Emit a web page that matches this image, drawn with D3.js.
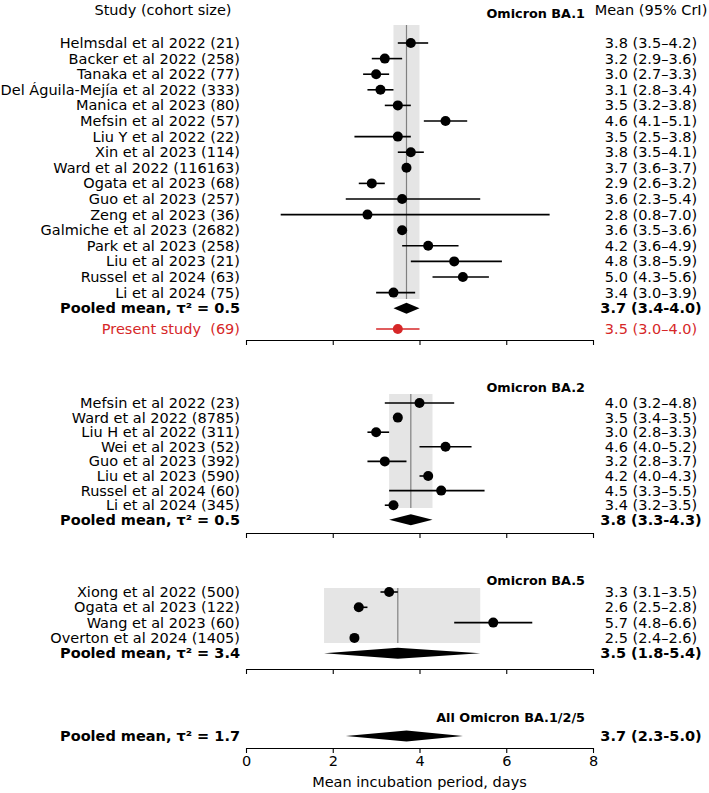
<!DOCTYPE html>
<html>
<head>
<meta charset="utf-8">
<script src="https://cdn.jsdelivr.net/npm/d3@7/dist/d3.min.js"></script>
<style>
body { margin: 0; background: #fff; }
svg text { font-family: "DejaVu Sans", sans-serif; font-size: 14.5px; }
</style>
</head>
<body>
<svg id="chart"></svg>
<script>
// ---- data ----
var ba1Studies = ["Helmsdal et al 2022 (21)", "Backer et al 2022 (258)", "Tanaka et al 2022 (77)",
    "Del Águila-Mejía et al 2022 (333)", "Manica et al 2023 (80)", "Mefsin et al 2022 (57)",
    "Liu Y et al 2022 (22)", "Xin et al 2023 (114)", "Ward et al 2022 (116163)", "Ogata et al 2023 (68)",
    "Guo et al 2023 (257)", "Zeng et al 2023 (36)", "Galmiche et al 2023 (2682)", "Park et al 2023 (258)",
    "Liu et al 2023 (21)", "Russel et al 2024 (63)", "Li et al 2024 (75)"];
var ba1Mean = [3.8, 3.2, 3.0, 3.1, 3.5, 4.6, 3.5, 3.8, 3.7, 2.9, 3.6, 2.8, 3.6, 4.2, 4.8, 5.0, 3.4];
var ba1Lo   = [3.5, 2.9, 2.7, 2.8, 3.2, 4.1, 2.5, 3.5, 3.6, 2.6, 2.3, 0.8, 3.5, 3.6, 3.8, 4.3, 3.0];
var ba1Hi   = [4.2, 3.6, 3.3, 3.4, 3.8, 5.1, 3.8, 4.1, 3.7, 3.2, 5.4, 7.0, 3.6, 4.9, 5.9, 5.6, 3.9];
var ba1Pooled = [3.7, 3.4, 4.0];
var ba1Tau2 = "0.5";

var presentLabel = "Present study  (69)";
var presentEst = [3.5, 3.0, 4.0];

var ba2Studies = ["Mefsin et al 2022 (23)", "Ward et al 2022 (8785)", "Liu H et al 2022 (311)",
    "Wei et al 2023 (52)", "Guo et al 2023 (392)", "Liu et al 2023 (590)", "Russel et al 2024 (60)",
    "Li et al 2024 (345)"];
var ba2Mean = [4.0, 3.5, 3.0, 4.6, 3.2, 4.2, 4.5, 3.4];
var ba2Lo   = [3.2, 3.4, 2.8, 4.0, 2.8, 4.0, 3.3, 3.2];
var ba2Hi   = [4.8, 3.5, 3.3, 5.2, 3.7, 4.3, 5.5, 3.5];
var ba2Pooled = [3.8, 3.3, 4.3];
var ba2Tau2 = "0.5";

var ba5Studies = ["Xiong et al 2022 (500)", "Ogata et al 2023 (122)", "Wang et al 2023 (60)",
    "Overton et al 2024 (1405)"];
var ba5Mean = [3.3, 2.6, 5.7, 2.5];
var ba5Lo   = [3.1, 2.5, 4.8, 2.4];
var ba5Hi   = [3.5, 2.8, 6.6, 2.6];
var ba5Pooled = [3.5, 1.8, 5.4];
var ba5Tau2 = "3.4";

var allPooled = [3.7, 2.3, 5.0];
var allTau2 = "1.7";

var xTicks = [0, 2, 4, 6, 8];

// ---- layout ----
var W = 709, H = 793;
var svg = d3.select("#chart").attr("width", W).attr("height", H);

var x = d3.scaleLinear().domain([0, 8]).range([246, 593]);
var labelX = 240, valueX = 651, titleX = 585;
var fmt = d3.format(".1f");
var red = "#d62728";

var panels = [
    {title: "Omicron BA.1", studies: ba1Studies, mean: ba1Mean, lo: ba1Lo, hi: ba1Hi,
        pooled: ba1Pooled, tau: ba1Tau2, titleY: 14, firstY: 43, step: 15.6,
        bandTop: 25, bandBottom: 299, axisY: 340},
    {title: "Omicron BA.2", studies: ba2Studies, mean: ba2Mean, lo: ba2Lo, hi: ba2Hi,
        pooled: ba2Pooled, tau: ba2Tau2, titleY: 388, firstY: 403, step: 14.6,
        bandTop: 394, bandBottom: 508, axisY: 533},
    {title: "Omicron BA.5", studies: ba5Studies, mean: ba5Mean, lo: ba5Lo, hi: ba5Hi,
        pooled: ba5Pooled, tau: ba5Tau2, titleY: 581, firstY: 592, step: 15.3,
        bandTop: 588, bandBottom: 643, axisY: 669},
    {title: "All Omicron BA.1/2/5", studies: [], mean: [], lo: [], hi: [],
        pooled: allPooled, tau: allTau2, titleY: 718, firstY: 736, step: 15,
        axisY: 748}
];

// column headers
svg.append("text").attr("x", 163).attr("y", 10).attr("dy", "0.35em")
    .attr("text-anchor", "middle").text("Study (cohort size)");
svg.append("text").attr("x", valueX).attr("y", 10).attr("dy", "0.35em")
    .attr("text-anchor", "middle").text("Mean (95% CrI)");

function diamond(est, yc, h) {
    return "M" + x(est[1]) + "," + yc + "L" + x(est[0]) + "," + (yc - h) +
        "L" + x(est[2]) + "," + yc + "L" + x(est[0]) + "," + (yc + h) + "Z";
}

panels.forEach(function (p, pi) {
    var g = svg.append("g");
    var n = p.studies.length;
    var y = function (i) { return p.firstY + i * p.step; };

    // shaded CrI band + pooled mean line
    if (n > 0) {
        g.append("rect")
            .attr("x", x(p.pooled[1])).attr("width", x(p.pooled[2]) - x(p.pooled[1]))
            .attr("y", p.bandTop).attr("height", p.bandBottom - p.bandTop)
            .attr("fill", "#e5e5e5");
        g.append("line")
            .attr("x1", x(p.pooled[0])).attr("x2", x(p.pooled[0]))
            .attr("y1", p.bandTop).attr("y2", p.bandBottom)
            .attr("stroke", "#808080").attr("stroke-width", 1.2);
    }

    g.append("text").attr("x", titleX).attr("y", p.titleY).attr("dy", "0.35em")
        .attr("text-anchor", "end").attr("font-weight", "bold").style("font-size", "12.8px")
        .text(p.title);

    var rows = d3.range(n);
    g.selectAll("line.ci").data(rows).enter().append("line")
        .attr("class", "ci")
        .attr("x1", function (i) { return x(p.lo[i]); })
        .attr("x2", function (i) { return x(p.hi[i]); })
        .attr("y1", y).attr("y2", y)
        .attr("stroke", "black").attr("stroke-width", 1.6);
    g.selectAll("circle.pt").data(rows).enter().append("circle")
        .attr("class", "pt")
        .attr("cx", function (i) { return x(p.mean[i]); })
        .attr("cy", y).attr("r", 5).attr("fill", "black");
    g.selectAll("text.lab").data(rows).enter().append("text")
        .attr("class", "lab").attr("x", labelX).attr("y", y).attr("dy", "0.35em")
        .attr("text-anchor", "end")
        .text(function (i) { return p.studies[i]; });
    g.selectAll("text.val").data(rows).enter().append("text")
        .attr("class", "val").attr("x", valueX).attr("y", y).attr("dy", "0.35em")
        .attr("text-anchor", "middle")
        .text(function (i) {
            return fmt(p.mean[i]) + " (" + fmt(p.lo[i]) + "–" + fmt(p.hi[i]) + ")";
        });

    // pooled row
    var py = y(n);
    g.append("path").attr("d", diamond(p.pooled, py, 5.5)).attr("fill", "black");
    g.append("text").attr("x", labelX).attr("y", py).attr("dy", "0.35em")
        .attr("text-anchor", "end").attr("font-weight", "bold")
        .text("Pooled mean, τ² = " + p.tau);
    g.append("text").attr("x", valueX).attr("y", py).attr("dy", "0.35em")
        .attr("text-anchor", "middle").attr("font-weight", "bold")
        .text(fmt(p.pooled[0]) + " (" + fmt(p.pooled[1]) + "-" + fmt(p.pooled[2]) + ")");

    // present study, first panel only
    if (pi === 0) {
        var ry = 329;
        g.append("line").attr("x1", x(presentEst[1])).attr("x2", x(presentEst[2]))
            .attr("y1", ry).attr("y2", ry).attr("stroke", red).attr("stroke-width", 1.6);
        g.append("circle").attr("cx", x(presentEst[0])).attr("cy", ry).attr("r", 5)
            .attr("fill", red);
        g.append("text").attr("x", labelX).attr("y", ry).attr("dy", "0.35em")
            .attr("text-anchor", "end").attr("fill", red).style("white-space", "pre")
            .text(presentLabel);
        g.append("text").attr("x", valueX).attr("y", ry).attr("dy", "0.35em")
            .attr("text-anchor", "middle").attr("fill", red)
            .text(fmt(presentEst[0]) + " (" + fmt(presentEst[1]) + "–" + fmt(presentEst[2]) + ")");
    }

    // bottom axis of each panel, labels only on the last one
    var last = pi === panels.length - 1;
    var axis = d3.axisBottom(x).tickValues(xTicks).tickSize(5).tickSizeOuter(0)
        .tickPadding(3);
    if (!last) axis.tickFormat("");
    var ag = g.append("g").attr("transform", "translate(0," + p.axisY + ")").call(axis);
    ag.select(".domain").attr("stroke", "black").attr("stroke-width", 1.1);
    ag.selectAll(".tick line").attr("stroke", "black").attr("stroke-width", 1.1);
    ag.selectAll(".tick text").attr("fill", "black")
        .style("font-family", "DejaVu Sans, sans-serif").style("font-size", "14.5px");
    if (last) {
        g.append("text").attr("x", (x(0) + x(8)) / 2).attr("y", 782).attr("dy", "0.35em")
            .attr("text-anchor", "middle").text("Mean incubation period, days");
    }
});
</script>
</body>
</html>
